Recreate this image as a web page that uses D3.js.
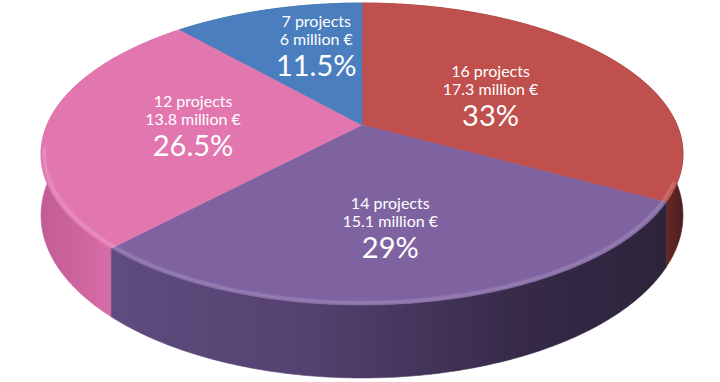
<!DOCTYPE html>
<html>
<head>
<meta charset="utf-8">
<script src="https://cdn.jsdelivr.net/npm/d3@7"></script>
<style>
  html, body { margin: 0; padding: 0; background: #fff; }
  svg { display: block; }
  text { font-family: Lato, "Noto Sans", sans-serif; fill: #fff; }
</style>
</head>
<body>
<svg id="chart" width="720" height="382"></svg>
<script>
// ---- data (clockwise from 12 o'clock) ----
const categories = ["A", "B", "C", "D"];
const projects   = [16, 14, 12, 7];
const millions   = [17.3, 15.1, 13.8, 6];
const percents   = [33, 29, 26.5, 11.5];

// ---- styles / layout ----
const topColors = ["#c0504d", "#7f63a1", "#e277b0", "#4a7ebe"];
const sideStops = [
  [[0, "#5a2424"], [0.9, "#8a3632"], [0.96, "#7a2e2b"], [1, "#4a1d1d"]],
  [[0, "#66528a"], [0.11, "#5f4c80"], [0.4, "#554270"], [0.55, "#483860"], [0.75, "#362a48"], [1, "#2c233a"]],
  [[0, "#c25c95"], [0.11, "#d86ca7"], [0.3, "#d86ca7"], [1, "#a04a7a"]],
  [[0, "#3d6aa0"], [1, "#2a4a70"]]
];
const labelNudge = [[-13, 9], [-2, 14], [4, 1], [10, -12]];

const W = 720, H = 382;
const cx = 362, cy = 125;       // projected centre of top face
const a = 315, b = 145.4;       // horizontal / vertical radii
const persp = 0.192;            // perspective strength
const thick = 59;               // wall thickness

function proj(theta, r, h) {
  const w = 1 + persp * r * Math.cos(theta);
  return [cx + a * r * Math.sin(theta) / w,
          cy + (-b * r * Math.cos(theta) + h) / w];
}
function arcPts(t0, t1, r, h) {
  const n = Math.max(2, Math.ceil(Math.abs(t1 - t0) / (Math.PI / 360)));
  return d3.range(n + 1).map(i => proj(t0 + (t1 - t0) * i / n, r, h));
}

const svg = d3.select("#chart");
const defs = svg.append("defs");

const pie = d3.pie().sort(null).value(d => d.pct).startAngle(0).endAngle(2 * Math.PI);
const data = categories.map((c, i) => ({ c, i, proj: projects[i], mil: millions[i], pct: percents[i] }));
const arcs = pie(data);

// gradients for side walls
const xs = d3.scaleLinear().domain([0, 1]).range([cx - a * 1.02, cx + a * 1.02]);
arcs.forEach((d, i) => {
  const g = defs.append("linearGradient")
    .attr("id", "side" + i)
    .attr("gradientUnits", "userSpaceOnUse")
    .attr("x1", xs(0)).attr("x2", xs(1)).attr("y1", 0).attr("y2", 0);
  sideStops[i].forEach(s => g.append("stop").attr("offset", s[0]).attr("stop-color", s[1]));
});
const blur = defs.append("filter").attr("id", "soft").attr("x", "-5%").attr("y", "-50%").attr("width", "110%").attr("height", "200%");
blur.append("feGaussianBlur").attr("stdDeviation", 1.2);

const line = d3.line();

// side walls, back to front
const sideOrder = arcs.slice().sort((p, q) =>
  (-Math.cos((p.startAngle + p.endAngle) / 2)) - (-Math.cos((q.startAngle + q.endAngle) / 2)));
svg.append("g").selectAll("path").data(sideOrder).join("path")
  .attr("d", d => {
    const top = arcPts(d.startAngle, d.endAngle, 1, 0);
    const bot = arcPts(d.endAngle, d.startAngle, 1, thick);
    return line(top.concat(bot)) + "Z";
  })
  .attr("fill", d => `url(#side${d.index})`)
  .attr("stroke", d => `url(#side${d.index})`)
  .attr("stroke-width", 0.6);

// top faces
svg.append("g").selectAll("path").data(arcs).join("path")
  .attr("d", d => line([proj(0, 0, 0)].concat(arcPts(d.startAngle, d.endAngle, 1, 0))) + "Z")
  .attr("fill", d => topColors[d.index])
  .attr("stroke", d => topColors[d.index])
  .attr("stroke-width", 0.6);

// bevel highlight along the front rim
svg.append("path")
  .attr("d", line(arcPts(Math.PI * 0.62, Math.PI * 1.45, 0.99, 0)))
  .attr("fill", "none")
  .attr("stroke", "rgba(255,255,255,0.28)")
  .attr("stroke-width", 2)
  .attr("filter", "url(#soft)");

// labels
const lbl = svg.append("g").selectAll("g").data(arcs).join("g")
  .attr("transform", d => {
    const m = (d.startAngle + d.endAngle) / 2;
    const p = proj(m, 0.55, 0);
    const n = labelNudge[d.index];
    return `translate(${p[0] + n[0]},${p[1] + n[1]})`;
  });
lbl.append("text").attr("text-anchor", "middle").attr("y", -18)
  .attr("font-size", 16).text(d => `${d.data.proj} projects`);
lbl.append("text").attr("text-anchor", "middle").attr("y", 0)
  .attr("font-size", 16).text(d => `${d.data.mil} million €`);
lbl.append("text").attr("text-anchor", "middle").attr("y", 31)
  .attr("font-size", 29).text(d => `${d.data.pct}%`);
</script>
</body>
</html>
